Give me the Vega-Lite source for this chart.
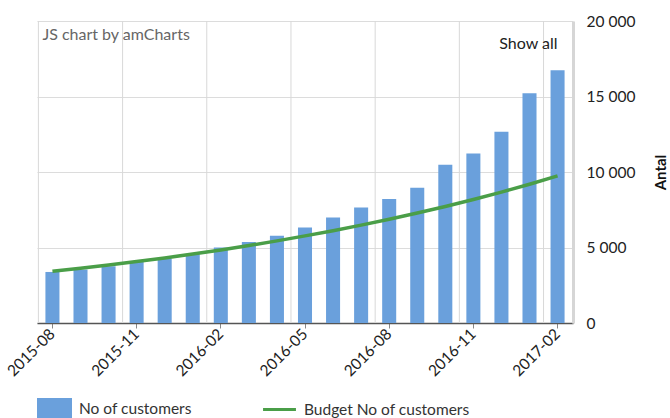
{
  "$schema": "https://vega.github.io/schema/vega-lite/v6.json",
  "width": 536,
  "height": 302,
  "autosize": {"type": "none"},
  "padding": {"left": 37, "top": 21, "right": 97, "bottom": 95},
  "config": {
    "locale": {"number": {"decimal": ",", "thousands": " ", "grouping": [3], "currency": ["", ""]}},
    "font": "Lato",
    "view": {"stroke": null}
  },
  "data": {
    "values": [
      {"month": "2015-08", "customers": 3380, "budget": 3420},
      {"month": "2015-09", "customers": 3540, "budget": 3620},
      {"month": "2015-10", "customers": 3760, "budget": 3840},
      {"month": "2015-11", "customers": 4050, "budget": 4070},
      {"month": "2015-12", "customers": 4270, "budget": 4310},
      {"month": "2016-01", "customers": 4560, "budget": 4570},
      {"month": "2016-02", "customers": 5000, "budget": 4840},
      {"month": "2016-03", "customers": 5370, "budget": 5130},
      {"month": "2016-04", "customers": 5770, "budget": 5440},
      {"month": "2016-05", "customers": 6330, "budget": 5770},
      {"month": "2016-06", "customers": 6990, "budget": 6110},
      {"month": "2016-07", "customers": 7650, "budget": 6480},
      {"month": "2016-08", "customers": 8220, "budget": 6870},
      {"month": "2016-09", "customers": 8950, "budget": 7280},
      {"month": "2016-10", "customers": 10480, "budget": 7720},
      {"month": "2016-11", "customers": 11230, "budget": 8180},
      {"month": "2016-12", "customers": 12670, "budget": 8670},
      {"month": "2017-01", "customers": 15210, "budget": 9190},
      {"month": "2017-02", "customers": 16740, "budget": 9740}
    ]
  },
  "layer": [
    {
      "mark": {"type": "rule", "color": "#d8d8d8", "strokeWidth": 1},
      "transform": [{"filter": {"field": "month", "oneOf": ["2015-08", "2015-11", "2016-02", "2016-05", "2016-08", "2016-11", "2017-02"]}}],
      "encoding": {
        "x": {"field": "month", "type": "ordinal", "bandPosition": 0}
      }
    },
    {
      "mark": {"type": "bar", "width": {"band": 0.5}, "color": "#6aa0dc"},
      "encoding": {
        "x": {
          "field": "month",
          "type": "ordinal",
          "scale": {"type": "band", "paddingInner": 0, "paddingOuter": 0.05},
          "axis": {
            "title": null,
            "values": ["2015-08", "2015-11", "2016-02", "2016-05", "2016-08", "2016-11", "2017-02"],
            "labelAngle": -45,
            "grid": false,
            "domainColor": "#555555",
            "domainWidth": 1.5,
            "tickColor": "#888888",
            "tickSize": 5,
            "labelFontSize": 15.5,
            "labelColor": "#222222",
            "labelFont": "Lato",
            "labelPadding": 3
          }
        },
        "y": {
          "field": "customers",
          "type": "quantitative",
          "scale": {"domain": [0, 20000], "nice": false},
          "axis": {
            "orient": "right",
            "title": "Antal",
            "values": [0, 1250, 2500, 3750, 5000, 6250, 7500, 8750, 10000, 11250, 12500, 13750, 15000, 16250, 17500, 18750, 20000],
            "format": ",d",
            "labelExpr": "datum.value % 5000 === 0 ? datum.label : ''",
            "grid": true,
            "gridColor": "#dcdcdc",
            "ticks": false,
            "domainColor": "#d6d6d6",
            "domainWidth": 3,
            "labelFontSize": 15.5,
            "labelColor": "#222222",
            "labelFont": "Lato",
            "labelPadding": 13,
            "titleFont": "Lato",
            "titleFontSize": 15,
            "titleFontWeight": "bold",
            "titleColor": "#111111",
            "titleAngle": 270,
            "titlePadding": 34
          }
        },
        "color": {
          "datum": "No of customers",
          "scale": {"domain": ["No of customers", "Budget No of customers"], "range": ["#6aa0dc", "#4a9e48"]},
          "legend": {
            "title": null,
            "orient": "bottom",
            "direction": "horizontal",
            "labelFont": "Lato",
            "labelFontSize": 15.5,
            "labelColor": "#333333",
            "labelOffset": 7,
            "labelLimit": 400,
            "symbolSize": 1225,
            "columnPadding": 70,
            "offset": 11,
            "encode": {
              "symbols": {
                "update": {
                  "shape": {"signal": "datum.value === 'No of customers' ? 'M-1,-0.6H1V0.6H-1Z' : 'M-0.94,-0.09H0.94V0.09H-0.94Z'"},
                  "fill": {"signal": "datum.value === 'No of customers' ? '#6aa0dc' : '#4a9e48'"},
                  "strokeWidth": {"value": 0},
                  "opacity": {"value": 1}
                }
              }
            }
          }
        }
      }
    },
    {
      "mark": {"type": "line", "strokeWidth": 3.5},
      "encoding": {
        "x": {"field": "month", "type": "ordinal"},
        "y": {"field": "budget", "type": "quantitative", "title": "Antal"},
        "color": {"datum": "Budget No of customers"}
      }
    },
    {
      "data": {"values": [{"label": "JS chart by amCharts"}]},
      "mark": {"type": "text", "align": "left", "baseline": "middle", "dx": 4, "fontSize": 16, "font": "Lato", "color": "#666666"},
      "encoding": {
        "x": {"datum": "2015-08", "type": "ordinal", "bandPosition": 0},
        "y": {"datum": 19070, "type": "quantitative"},
        "text": {"field": "label"}
      }
    },
    {
      "data": {"values": [{"label": "Show all"}]},
      "mark": {"type": "text", "align": "right", "baseline": "middle", "fontSize": 16, "font": "Lato", "color": "#222222"},
      "encoding": {
        "x": {"datum": "2017-02", "type": "ordinal"},
        "y": {"datum": 18480, "type": "quantitative"},
        "text": {"field": "label"}
      }
    }
  ]
}
